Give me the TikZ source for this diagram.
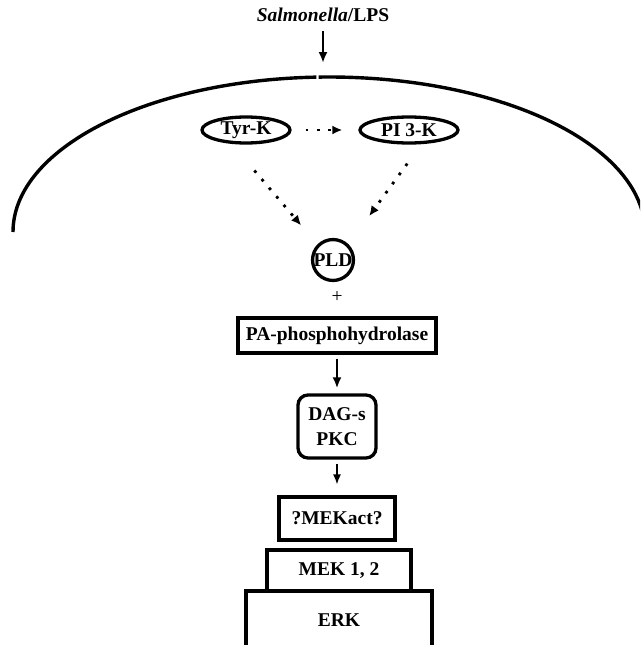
\documentclass[tikz,border=0pt]{standalone}
\usepackage{fontspec}
\setmainfont{Liberation Serif}
\usetikzlibrary{shapes,arrows.meta,positioning}

\begin{document}
\begin{tikzpicture}[x=1pt, y=-1pt, every node/.style={font=\fontsize{19.5}{25}\selectfont\bfseries},
	enzyme/.style={draw, ellipse, line width=3.3pt, inner sep=0pt},
	box/.style={draw, rectangle, line width=3.3pt, inner sep=0pt, align=center},
	membrane/.style={line width=3.4pt},
	flow/.style={-{Latex[length=11pt,width=9pt]}, line width=2.2pt},
	thinflow/.style={-{Latex[length=10pt,width=8pt]}, line width=1.3pt},
	dotflow/.style={-{Latex[length=10pt,width=9pt]}, line width=2.8pt, dash pattern=on 2.8pt off 8.5pt}]
				\useasboundingbox (0,0) rectangle (640,645);
				\clip (0,0) rectangle (640,645);
				% outside the cell
				\node (title) at (323,15) {\textit{Salmonella}/LPS};
				\coordinate (entry) at (323,77);
				\draw[flow, shorten <=6pt, shorten >=14pt] (title) -- (entry);
				\draw[membrane] (13,232) arc[start angle=180, end angle=92.3, x radius=316pt, y radius=155pt];
				\draw[membrane] ([shift={(91.9:316pt and 155pt)}]329,232) arc[start angle=91.9, end angle=0, x radius=316pt, y radius=155pt];
				% kinases
				\node[enzyme, minimum width=88pt, minimum height=26pt] (tyrk) at (246,130) {Tyr-K};
				\node[enzyme, minimum width=98pt, minimum height=26pt] (pi3k) at (409,130) {PI 3-K};
				\node[draw, circle, line width=3.3pt, inner sep=0pt, minimum size=38pt] (pld) at (333,260) {PLD};
				\draw[dotflow, shorten <=14pt, shorten >=16pt] (tyrk.east) -- (pi3k.west);
				\draw[dotflow, shorten <=35pt, shorten >=25pt] (tyrk.-136) -- (pld.north west);
				\draw[dotflow, shorten <=24pt, shorten >=35pt] (pi3k.-49) -- (pld.north east);
				% cascade
				\node[font=\fontsize{19.5}{25}\selectfont] (plus) at (337,297) {+};
				\node[box, minimum width=198pt, minimum height=35pt] (pa) at (337,335.5) {PA-phosphohydrolase};
				\node[box, rounded corners=10pt, minimum width=78pt, minimum height=63pt] (dag) at (337,426.5) {DAG-s\\PKC};
				\node[box, minimum width=116pt, minimum height=43pt] (mekact) at (337,518.5) {?MEKact?};
				\node[box, minimum width=144pt, minimum height=41pt] (mek) at (339,570.5) {MEK 1, 2};
				\node[box, minimum width=186pt, minimum height=59pt] (erk) at (339,620.5) {ERK};
				\draw[flow, shorten <=4pt, shorten >=5pt] (pa) -- (dag);
				\draw[thinflow, shorten <=4pt, shorten >=11pt] (dag) -- (mekact);
			\end{tikzpicture}
\end{document}
